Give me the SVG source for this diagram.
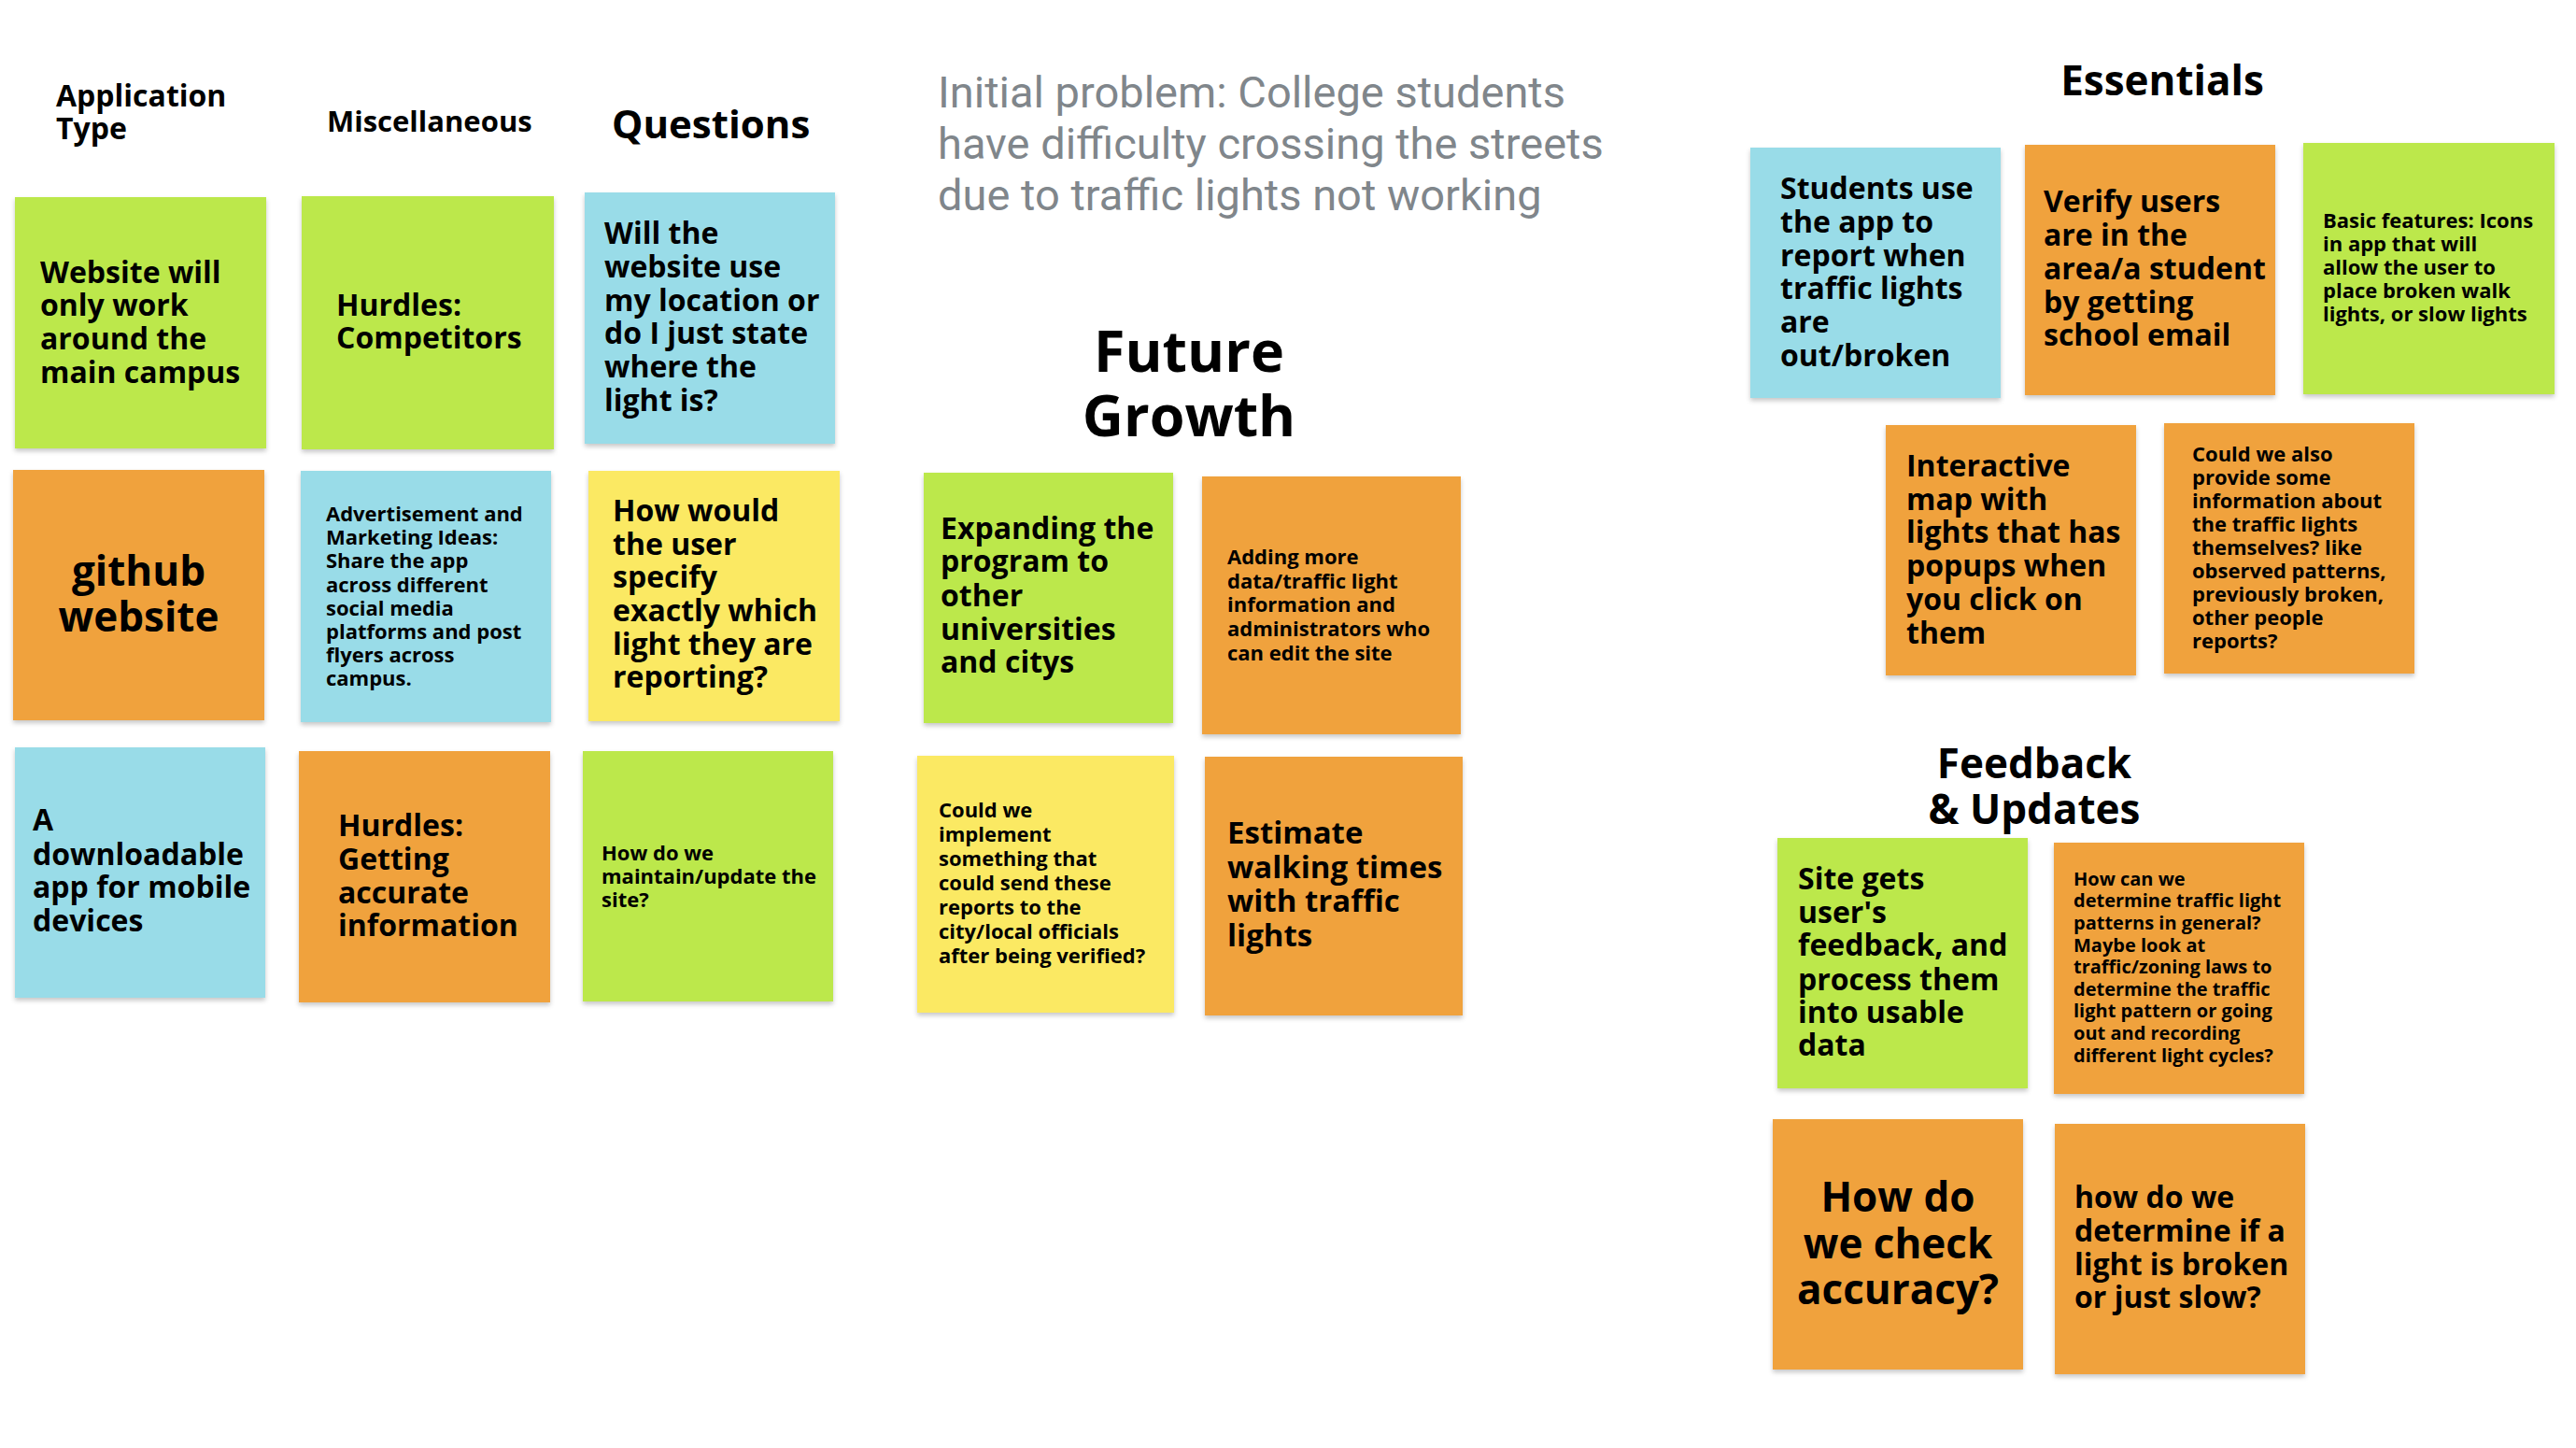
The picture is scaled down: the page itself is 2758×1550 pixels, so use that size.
<svg xmlns="http://www.w3.org/2000/svg" width="2758" height="1550" viewBox="0 0 2758 1550">
<defs>
<filter id="sh" x="-5%" y="-5%" width="110%" height="115%">
<feDropShadow dx="0" dy="3" stdDeviation="2.5" flood-color="#000" flood-opacity="0.22"/>
</filter>
<style>
.g{fill:#bce84b}.o{fill:#f0a23c}.b{fill:#99dce8}.y{fill:#fbe964}
.note{filter:url(#sh)}
text{font-family:"Open Sans","DejaVu Sans",sans-serif;font-weight:700;fill:#000}
.t32{font-size:32px}.t22{font-size:22px}.t20{font-size:20px}.t44{font-size:44px}.t33{font-size:33px}
.h{font-size:32px}.hq{font-size:42px}.hb{font-size:44px}.hf{font-size:61px}
.c{text-anchor:middle}
.prob{font-family:Roboto,"Liberation Sans",sans-serif;font-weight:400;font-size:47px;fill:#80868b}
</style>
</defs>
<rect width="2758" height="1550" fill="#fff"/>

<g id="headers">
<g id="h-apptype"><text class="h" x="60" y="114">Application</text><text class="h" x="60" y="149">Type</text></g>
<g id="h-misc"><text x="350" y="141" style="font-size:31px">Miscellaneous</text></g>
<g id="h-questions"><text class="hq" x="655" y="148">Questions</text></g>
<g id="h-problem"><text class="prob" x="1004" y="115">Initial problem: College students</text><text class="prob" x="1004" y="170">have difficulty crossing the streets</text><text class="prob" x="1004" y="225">due to traffic lights not working</text></g>
<g id="h-future"><text class="hf c" x="1273" y="398">Future</text><text class="hf c" x="1273" y="467">Growth</text></g>
<g id="h-essentials"><text class="hb c" x="2315" y="102">Essentials</text></g>
<g id="h-feedback"><text class="hb c" x="2178" y="833">Feedback</text><text class="hb c" x="2178" y="882">&amp; Updates</text></g>
</g>

<g id="n1"><rect class="note g" x="16" y="211" width="269" height="269"/>
<text class="t32"><tspan x="43" y="303">Website will</tspan><tspan x="43" y="338">only work</tspan><tspan x="43" y="374">around the</tspan><tspan x="43" y="410">main campus</tspan></text></g>

<g id="n2"><rect class="note g" x="323" y="210" width="270" height="271"/>
<text class="t32"><tspan x="360" y="338">Hurdles:</tspan><tspan x="360" y="373">Competitors</tspan></text></g>

<g id="n3"><rect class="note b" x="626" y="206" width="268" height="269"/>
<text class="t32"><tspan x="647" y="261">Will the</tspan><tspan x="647" y="297">website use</tspan><tspan x="647" y="333">my location or</tspan><tspan x="647" y="368">do I just state</tspan><tspan x="647" y="404">where the</tspan><tspan x="647" y="440">light is?</tspan></text></g>

<g id="n4"><rect class="note o" x="14" y="503" width="269" height="268"/>
<text class="t44 c"><tspan x="148.5" y="627">github</tspan><tspan x="148.5" y="676">website</tspan></text></g>

<g id="n5"><rect class="note b" x="322" y="504" width="268" height="269"/>
<text class="t22"><tspan x="349" y="558">Advertisement and</tspan><tspan x="349" y="583">Marketing Ideas:</tspan><tspan x="349" y="608">Share the app</tspan><tspan x="349" y="634">across different</tspan><tspan x="349" y="659">social media</tspan><tspan x="349" y="684">platforms and post</tspan><tspan x="349" y="709">flyers across</tspan><tspan x="349" y="734">campus.</tspan></text></g>

<g id="n6"><rect class="note y" x="630" y="504" width="269" height="268"/>
<text class="t32"><tspan x="656" y="558">How would</tspan><tspan x="656" y="594">the user</tspan><tspan x="656" y="629">specify</tspan><tspan x="656" y="665">exactly which</tspan><tspan x="656" y="701">light they are</tspan><tspan x="656" y="736">reporting?</tspan></text></g>

<g id="n7"><rect class="note b" x="16" y="800" width="268" height="268"/>
<text class="t32"><tspan x="35" y="889">A</tspan><tspan x="35" y="926">downloadable</tspan><tspan x="35" y="961">app for mobile</tspan><tspan x="35" y="997">devices</tspan></text></g>

<g id="n8"><rect class="note o" x="320" y="804" width="269" height="269"/>
<text class="t32"><tspan x="362" y="895">Hurdles:</tspan><tspan x="362" y="931">Getting</tspan><tspan x="362" y="967">accurate</tspan><tspan x="362" y="1002">information</tspan></text></g>

<g id="n9"><rect class="note g" x="624" y="804" width="268" height="268"/>
<text class="t22"><tspan x="644" y="921">How do we</tspan><tspan x="644" y="946">maintain/update the</tspan><tspan x="644" y="971">site?</tspan></text></g>

<g id="fg1"><rect class="note g" x="989" y="506" width="267" height="268"/>
<text class="t32"><tspan x="1007" y="577">Expanding the</tspan><tspan x="1007" y="612">program to</tspan><tspan x="1007" y="649">other</tspan><tspan x="1007" y="685">universities</tspan><tspan x="1007" y="720">and citys</tspan></text></g>

<g id="fg2"><rect class="note o" x="1287" y="510" width="277" height="276"/>
<text class="t22"><tspan x="1314" y="604">Adding more</tspan><tspan x="1314" y="630">data/traffic light</tspan><tspan x="1314" y="655">information and</tspan><tspan x="1314" y="681">administrators who</tspan><tspan x="1314" y="707">can edit the site</tspan></text></g>

<g id="fg3"><rect class="note y" x="982" y="809" width="275" height="275"/>
<text class="t22"><tspan x="1005" y="875">Could we</tspan><tspan x="1005" y="901">implement</tspan><tspan x="1005" y="927">something that</tspan><tspan x="1005" y="953">could send these</tspan><tspan x="1005" y="979">reports to the</tspan><tspan x="1005" y="1005">city/local officials</tspan><tspan x="1005" y="1031">after being verified?</tspan></text></g>

<g id="fg4"><rect class="note o" x="1290" y="810" width="276" height="277"/>
<text class="t33"><tspan x="1314" y="903">Estimate</tspan><tspan x="1314" y="940">walking times</tspan><tspan x="1314" y="976">with traffic</tspan><tspan x="1314" y="1013">lights</tspan></text></g>

<g id="es1"><rect class="note b" x="1874" y="158" width="268" height="268"/>
<text class="t32"><tspan x="1906" y="213">Students use</tspan><tspan x="1906" y="249">the app to</tspan><tspan x="1906" y="285">report when</tspan><tspan x="1906" y="320">traffic lights</tspan><tspan x="1906" y="356">are</tspan><tspan x="1906" y="392">out/broken</tspan></text></g>

<g id="es2"><rect class="note o" x="2168" y="155" width="268" height="268"/>
<text class="t32"><tspan x="2188" y="227">Verify users</tspan><tspan x="2188" y="263">are in the</tspan><tspan x="2188" y="299">area/a student</tspan><tspan x="2188" y="335">by getting</tspan><tspan x="2188" y="370">school email</tspan></text></g>

<g id="es3"><rect class="note g" x="2466" y="153" width="269" height="269"/>
<text class="t22"><tspan x="2487" y="244">Basic features: Icons</tspan><tspan x="2487" y="269">in app that will</tspan><tspan x="2487" y="294">allow the user to</tspan><tspan x="2487" y="319">place broken walk</tspan><tspan x="2487" y="344">lights, or slow lights</tspan></text></g>

<g id="es4"><rect class="note o" x="2019" y="455" width="268" height="268"/>
<text class="t32"><tspan x="2041" y="510">Interactive</tspan><tspan x="2041" y="546">map with</tspan><tspan x="2041" y="581">lights that has</tspan><tspan x="2041" y="617">popups when</tspan><tspan x="2041" y="653">you click on</tspan><tspan x="2041" y="689">them</tspan></text></g>

<g id="es5"><rect class="note o" x="2317" y="453" width="268" height="268"/>
<text class="t22"><tspan x="2347" y="494">Could we also</tspan><tspan x="2347" y="519">provide some</tspan><tspan x="2347" y="544">information about</tspan><tspan x="2347" y="569">the traffic lights</tspan><tspan x="2347" y="594">themselves? like</tspan><tspan x="2347" y="619">observed patterns,</tspan><tspan x="2347" y="644">previously broken,</tspan><tspan x="2347" y="669">other people</tspan><tspan x="2347" y="694">reports?</tspan></text></g>

<g id="fb1"><rect class="note g" x="1903" y="897" width="268" height="268"/>
<text class="t32"><tspan x="1925" y="952">Site gets</tspan><tspan x="1925" y="988">user's</tspan><tspan x="1925" y="1023">feedback, and</tspan><tspan x="1925" y="1060">process them</tspan><tspan x="1925" y="1095">into usable</tspan><tspan x="1925" y="1130">data</tspan></text></g>

<g id="fb2"><rect class="note o" x="2199" y="902" width="268" height="269"/>
<text class="t20"><tspan x="2220" y="948">How can we</tspan><tspan x="2220" y="971">determine traffic light</tspan><tspan x="2220" y="995">patterns in general?</tspan><tspan x="2220" y="1019">Maybe look at</tspan><tspan x="2220" y="1042">traffic/zoning laws to</tspan><tspan x="2220" y="1066">determine the traffic</tspan><tspan x="2220" y="1089">light pattern or going</tspan><tspan x="2220" y="1113">out and recording</tspan><tspan x="2220" y="1137">different light cycles?</tspan></text></g>

<g id="fb3"><rect class="note o" x="1898" y="1198" width="268" height="268"/>
<text class="t44 c"><tspan x="2032" y="1297">How do</tspan><tspan x="2032" y="1347">we check</tspan><tspan x="2032" y="1396">accuracy?</tspan></text></g>

<g id="fb4"><rect class="note o" x="2200" y="1203" width="268" height="268"/>
<text class="t32"><tspan x="2221" y="1293">how do we</tspan><tspan x="2221" y="1329">determine if a</tspan><tspan x="2221" y="1365">light is broken</tspan><tspan x="2221" y="1400">or just slow?</tspan></text></g>

<g id="connectors"/>
</svg>
